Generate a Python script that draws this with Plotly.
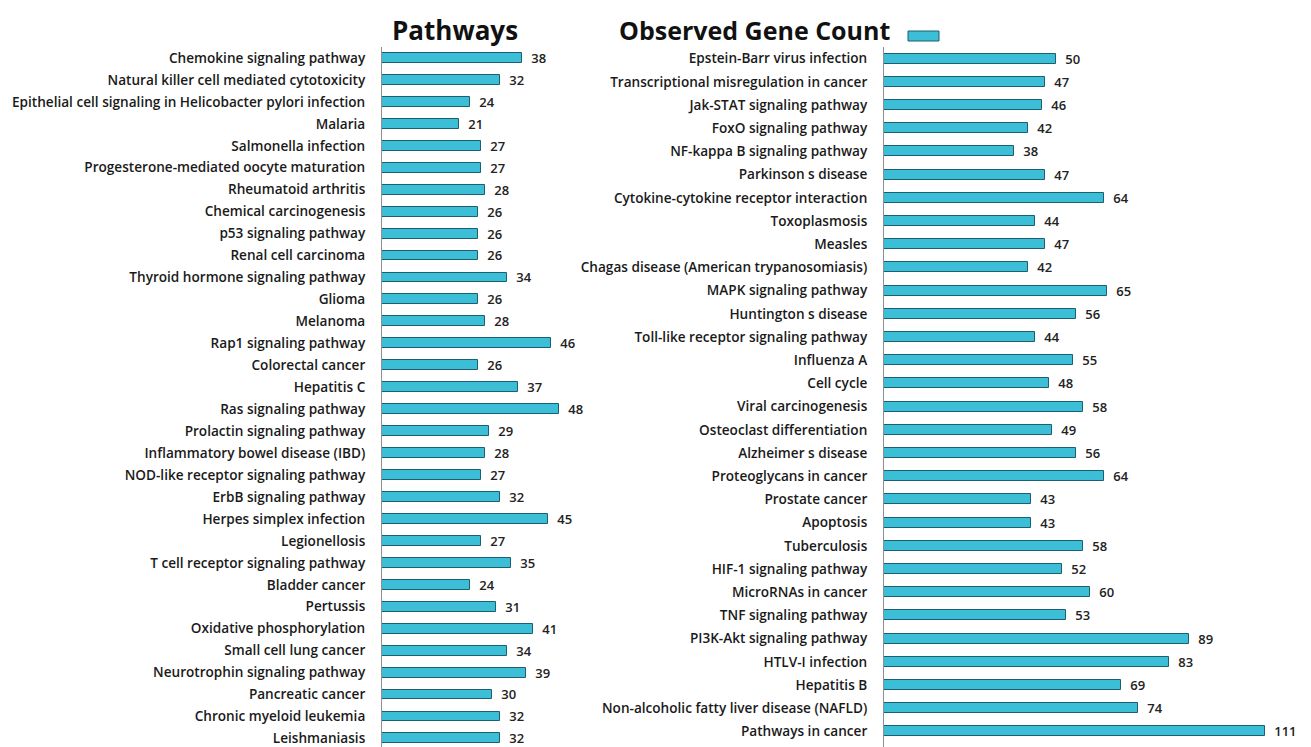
import plotly.graph_objects as go

left_pathways = [
    "Chemokine signaling pathway", "Natural killer cell mediated cytotoxicity",
    "Epithelial cell signaling in Helicobacter pylori infection", "Malaria",
    "Salmonella infection", "Progesterone-mediated oocyte maturation",
    "Rheumatoid arthritis", "Chemical carcinogenesis", "p53 signaling pathway",
    "Renal cell carcinoma", "Thyroid hormone signaling pathway", "Glioma",
    "Melanoma", "Rap1 signaling pathway", "Colorectal cancer", "Hepatitis C",
    "Ras signaling pathway", "Prolactin signaling pathway",
    "Inflammatory bowel disease (IBD)", "NOD-like receptor signaling pathway",
    "ErbB signaling pathway", "Herpes simplex infection", "Legionellosis",
    "T cell receptor signaling pathway", "Bladder cancer", "Pertussis",
    "Oxidative phosphorylation", "Small cell lung cancer",
    "Neurotrophin signaling pathway", "Pancreatic cancer",
    "Chronic myeloid leukemia", "Leishmaniasis",
]
left_counts = [38, 32, 24, 21, 27, 27, 28, 26, 26, 26, 34, 26, 28, 46, 26, 37,
               48, 29, 28, 27, 32, 45, 27, 35, 24, 31, 41, 34, 39, 30, 32, 32]

right_pathways = [
    "Epstein-Barr virus infection", "Transcriptional misregulation in cancer",
    "Jak-STAT signaling pathway", "FoxO signaling pathway",
    "NF-kappa B signaling pathway", "Parkinson s disease",
    "Cytokine-cytokine receptor interaction", "Toxoplasmosis", "Measles",
    "Chagas disease (American trypanosomiasis)", "MAPK signaling pathway",
    "Huntington s disease", "Toll-like receptor signaling pathway",
    "Influenza A", "Cell cycle", "Viral carcinogenesis",
    "Osteoclast differentiation", "Alzheimer s disease",
    "Proteoglycans in cancer", "Prostate cancer", "Apoptosis", "Tuberculosis",
    "HIF-1 signaling pathway", "MicroRNAs in cancer", "TNF signaling pathway",
    "PI3K-Akt signaling pathway", "HTLV-I infection", "Hepatitis B",
    "Non-alcoholic fatty liver disease (NAFLD)", "Pathways in cancer",
]
right_counts = [50, 47, 46, 42, 38, 47, 64, 44, 47, 42, 65, 56, 44, 55, 48, 58,
                49, 56, 64, 43, 43, 58, 52, 60, 53, 89, 83, 69, 74, 111]

# The page body has an 8px default margin, so the figure is offset by 8px.
OFF = 8
W, H = 1311 - OFF, 747 - OFF
BAR = "#3cbfd6"
EDGE = "#1b5f70"
LABEL_FONT = dict(family="Open Sans", size=13.6, color="#1a1a1a", weight=600)
VAL_FONT = dict(family="Open Sans", size=13, color="#222222", weight=600)

fig = go.Figure()

left_idx = list(range(len(left_pathways)))
right_idx = list(range(len(right_pathways)))

fig.add_trace(go.Bar(
    x=left_counts, y=left_idx, orientation="h", width=0.45,
    marker=dict(color=BAR, line=dict(color=EDGE, width=1)),
    text=["\u00a0\u00a0" + str(v) for v in left_counts], textposition="outside",
    constraintext="none", textfont=VAL_FONT, cliponaxis=False,
    xaxis="x", yaxis="y", name="Observed Gene Count", showlegend=False,
))
fig.add_trace(go.Bar(
    x=right_counts, y=right_idx, orientation="h", width=0.43,
    marker=dict(color=BAR, line=dict(color=EDGE, width=1)),
    text=["\u00a0\u00a0" + str(v) for v in right_counts], textposition="outside",
    constraintext="none", textfont=VAL_FONT, cliponaxis=False,
    xaxis="x2", yaxis="y2", name="Observed Gene Count", showlegend=False,
))

top_px = 47 - OFF
ydom = [0, (H - top_px) / H]
left_axis_px, left_end_px, left_scale = 382 - OFF, 600 - OFF, 3.68
right_axis_px, right_end_px, right_scale = 884 - OFF, 1311 - OFF, 3.43
left_step = 21.95
right_step = 23.2

common_x = dict(showgrid=False, zeroline=False, showticklabels=False,
                showline=False, ticks="")
fig.update_layout(
    width=W, height=H, margin=dict(l=0, r=0, t=0, b=0),
    paper_bgcolor="white", plot_bgcolor="white", bargap=0,
    xaxis=dict(domain=[left_axis_px / W, left_end_px / W],
               range=[0, (left_end_px - left_axis_px) / left_scale], **common_x),
    xaxis2=dict(domain=[right_axis_px / W, right_end_px / W],
                range=[0, (right_end_px - right_axis_px) / right_scale],
                anchor="y2", **common_x),
    yaxis=dict(domain=ydom, anchor="x",
               range=[-0.5 + (H - top_px) / left_step, -0.5],
               tickvals=left_idx, ticktext=left_pathways,
               showline=True, linecolor="#8f8f8f", linewidth=1,
               showgrid=False, zeroline=False, ticks="",
               ticklabelstandoff=13, tickfont=LABEL_FONT,
               ticklabeloverflow="allow"),
    yaxis2=dict(domain=ydom, anchor="x2",
                range=[-0.5 + (H - top_px) / right_step, -0.5],
                tickvals=right_idx, ticktext=right_pathways,
                showline=True, linecolor="#8f8f8f", linewidth=1,
                showgrid=False, zeroline=False, ticks="",
                ticklabelstandoff=13, tickfont=LABEL_FONT,
                ticklabeloverflow="allow"),
    annotations=[
        dict(text="Pathways", x=(455 - OFF) / W, y=1 - (30 - OFF) / H,
             xref="paper", yref="paper", xanchor="center", yanchor="middle",
             showarrow=False,
             font=dict(family="Open Sans", size=26, color="#111111", weight=700)),
        dict(text="Observed Gene Count", x=(892 - OFF) / W, y=1 - (30 - OFF) / H,
             xref="paper", yref="paper", xanchor="right", yanchor="middle",
             showarrow=False,
             font=dict(family="Open Sans", size=25, color="#111111", weight=700)),
    ],
    shapes=[
        dict(type="rect", xref="paper", yref="paper",
             x0=(908 - OFF) / W, x1=(939 - OFF) / W,
             y0=1 - (41 - OFF) / H, y1=1 - (31 - OFF) / H,
             fillcolor=BAR, line=dict(color=EDGE, width=1)),
    ],
)

fig.write_html("out.html")
